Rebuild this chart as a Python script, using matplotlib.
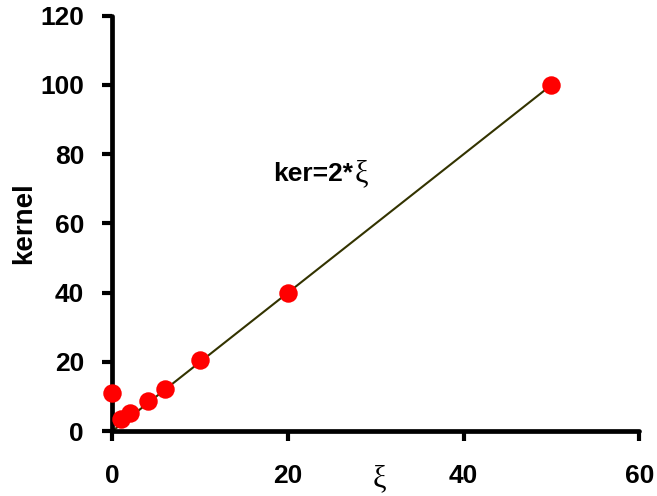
import matplotlib
matplotlib.use("Agg")
import matplotlib.pyplot as plt

# data
xi = [0, 1, 2, 4, 6, 10, 20, 50]
kernel = [11, 3.4, 5.1, 8.6, 12.2, 20.4, 40, 100]
fit_x = [0, 50]
fit_y = [0, 100]
xticks = [0, 20, 40, 60]
yticks = [0, 20, 40, 60, 80, 100, 120]

plt.rcParams['font.family'] = ['Liberation Sans', 'DejaVu Sans']

fig = plt.figure(figsize=(6.57, 4.96), dpi=100)
ax = fig.add_axes([0.1712, 0.1310, 0.8018, 0.8373])

ax.plot(fit_x, fit_y, color='#333300', lw=1.5, zorder=2)
ax.plot(xi, kernel, 'o', color='#ff0000', markersize=13.3, markeredgewidth=0,
        zorder=3, clip_on=False)

ax.set_xlim(0, 60)
ax.set_ylim(0, 120)
ax.set_xticks(xticks)
ax.set_yticks(yticks)
for lbl in ax.get_xticklabels() + ax.get_yticklabels():
    lbl.set_fontweight('bold')
    lbl.set_fontsize(19)

ax.spines['top'].set_visible(False)
ax.spines['right'].set_visible(False)
for s in ['left', 'bottom']:
    ax.spines[s].set_linewidth(3.4)
    ax.spines[s].set_capstyle('round')
ax.tick_params(axis='both', direction='out', length=7, width=3.0, colors='black')
ax.tick_params(axis='x', pad=17)
ax.tick_params(axis='y', pad=13.5)

ax.set_ylabel('kernel', fontsize=20, fontweight='bold')
ax.yaxis.set_label_coords(-0.143, 0.5)

serif = ['Liberation Serif', 'DejaVu Serif']
ax.set_xlabel('ξ', fontsize=22, family=serif, va='center')
ax.xaxis.set_label_coords(0.506, -0.1156)

ax.text(18.3, 72.3, 'ker=2*', fontsize=19, fontweight='bold', va='baseline', ha='left')
ax.text(27.6, 72.3, 'ξ', fontsize=22, family=serif, va='baseline', ha='left')

fig.savefig('out.png', dpi=100)
